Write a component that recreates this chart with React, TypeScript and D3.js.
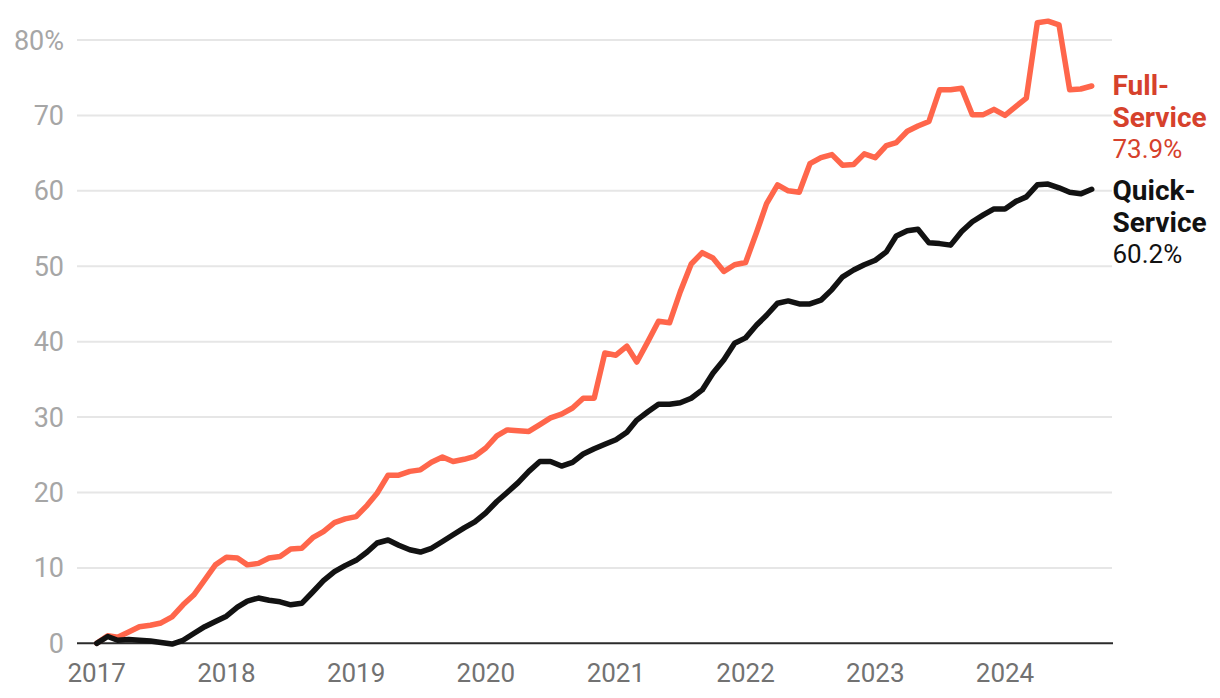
import React from 'react';
import * as d3 from 'd3';

// monthly values, Jan 2017 – Sep 2024 (% change since Jan 2017)
const fullService: number[] = [
  0, 1.0, 0.8, 1.5, 2.2, 2.4, 2.7, 3.5, 5.1, 6.4, 8.4, 10.4,
  11.4, 11.3, 10.4, 10.6, 11.3, 11.5, 12.5, 12.6, 14.0, 14.8, 16.0, 16.5,
  16.8, 18.3, 19.9, 22.3, 22.3, 22.8, 23.0, 24.0, 24.7, 24.1, 24.4, 24.8,
  25.9, 27.5, 28.3, 28.2, 28.1, 29.0, 29.9, 30.4, 31.2, 32.5, 32.5, 38.5,
  38.2, 39.4, 37.3, 40.0, 42.7, 42.5, 46.6, 50.3, 51.8, 51.1, 49.3, 50.2,
  50.5, 54.5, 58.3, 60.8, 60.0, 59.8, 63.6, 64.4, 64.8, 63.4, 63.5, 64.9,
  64.4, 66.0, 66.4, 67.9, 68.6, 69.2, 73.4, 73.4, 73.6, 70.1, 70.1, 70.8,
  70.0, 71.2, 72.3, 82.3, 82.5, 82.0, 73.4, 73.5, 73.9,
];

const quickService: number[] = [
  0, 0.9, 0.4, 0.5, 0.4, 0.3, 0.1, -0.1, 0.4, 1.3, 2.2, 2.9,
  3.6, 4.8, 5.6, 6.0, 5.7, 5.5, 5.1, 5.3, 6.8, 8.3, 9.5, 10.3,
  11.0, 12.1, 13.3, 13.7, 13.0, 12.4, 12.1, 12.6, 13.5, 14.4, 15.3, 16.1,
  17.3, 18.8, 20.0, 21.3, 22.8, 24.1, 24.1, 23.5, 24.0, 25.1, 25.8, 26.4,
  27.0, 28.0, 29.6, 30.7, 31.7, 31.7, 31.9, 32.5, 33.6, 35.8, 37.6, 39.8,
  40.5, 42.2, 43.5, 45.1, 45.4, 45.0, 45.0, 45.5, 46.9, 48.6, 49.5, 50.2,
  50.8, 51.9, 54.0, 54.7, 54.9, 53.1, 53.0, 52.8, 54.6, 55.9, 56.8, 57.6,
  57.6, 58.6, 59.2, 60.8, 60.9, 60.4, 59.8, 59.6, 60.2,
];

const months: Date[] = d3.utcMonths(new Date(Date.UTC(2017, 0, 1)), new Date(Date.UTC(2024, 9, 1)));
const yearTicks: number[] = [2017, 2018, 2019, 2020, 2021, 2022, 2023, 2024];
const yTicks: number[] = [0, 10, 20, 30, 40, 50, 60, 70, 80];

const series = [
  { name: ['Full-', 'Service'], values: fullService, line: '#ff664b', text: '#d6412c', last: '73.9%' },
  { name: ['Quick-', 'Service'], values: quickService, line: '#121212', text: '#121212', last: '60.2%' },
];

const W = 1220;
const H = 698;
const FONT = 'Roboto, "Noto Sans", Arial, sans-serif';

export default function App() {
  const x = d3.scaleUtc()
    .domain([new Date(Date.UTC(2017, 0, 1)), new Date(Date.UTC(2024, 0, 1))])
    .range([96.7, 1005]);
  const y = d3.scaleLinear().domain([0, 80]).range([643.3, 40]);
  const gridX0 = 77;
  const gridX1 = 1112;

  const line = d3.line<number>()
    .x((_, i) => x(months[i]))
    .y(d => y(d));

  return (
    <div style={{ position: 'absolute', left: 0, top: 0 }}>
      <svg width={W} height={H} style={{ display: 'block', background: '#fff' }} fontFamily={FONT}>
        {yTicks.filter(t => t > 0).map(t => (
          <line key={t} x1={gridX0} x2={gridX1} y1={y(t)} y2={y(t)} stroke="#e6e6e6" strokeWidth={2} />
        ))}
        {yTicks.map(t => (
          <text key={t} x={64} y={y(t) + 9.5} textAnchor="end" fontSize={27} fill="#a6a6a6">
            {t === 80 ? '80%' : t}
          </text>
        ))}
        <line x1={gridX0} x2={gridX1 + 1} y1={y(0)} y2={y(0)} stroke="#2b2b2b" strokeWidth={2} />
        {yearTicks.map(yr => (
          <text key={yr} x={x(new Date(Date.UTC(yr, 0, 1)))} y={682} textAnchor="middle" fontSize={26} fill="#727272">
            {yr}
          </text>
        ))}
        {series.map(s => (
          <path key={s.last} d={line(s.values) ?? ''} fill="none" stroke={s.line} strokeWidth={5.5}
            strokeLinejoin="round" strokeLinecap="round" />
        ))}
        {series.map((s, k) => {
          const base = k === 0 ? 95 : 200;
          return (
            <text key={s.last} x={1112.5} fill={s.text} fontSize={26}>
              <tspan x={1112.5} y={base} fontWeight={700} fontSize={28}>{s.name[0]}</tspan>
              <tspan x={1112.5} y={base + 31.5} fontWeight={700} fontSize={28}>{s.name[1]}</tspan>
              <tspan x={1112.5} y={base + 63}>{s.last}</tspan>
            </text>
          );
        })}
      </svg>
    </div>
  );
}
